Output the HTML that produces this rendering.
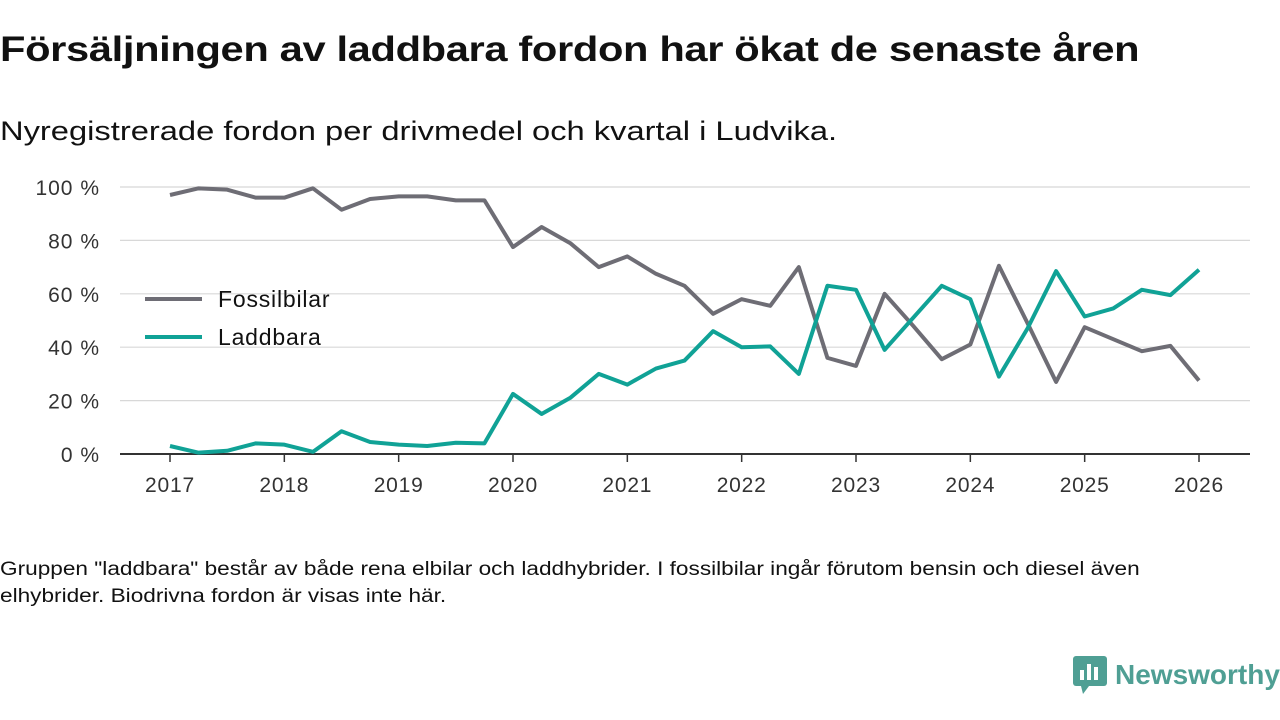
<!DOCTYPE html>
<html><head><meta charset="utf-8"><style>
body{margin:0;width:1280px;height:720px;background:#fff;font-family:"Liberation Sans","DejaVu Sans",sans-serif;color:#111;overflow:hidden;position:relative}
.t{position:absolute;left:0;top:30px;font-size:35px;font-weight:bold;letter-spacing:-0.3px;transform:scaleX(1.19);transform-origin:left;white-space:nowrap}
.s{position:absolute;left:0;top:116px;font-size:27px;transform:scaleX(1.21);transform-origin:left;white-space:nowrap}
.f{position:absolute;left:0;top:556px;font-size:19px;line-height:27px;width:1010px;transform:scaleX(1.19);transform-origin:left}
</style></head><body>
<div class="t">Försäljningen av laddbara fordon har ökat de senaste åren</div>
<div class="s">Nyregistrerade fordon per drivmedel och kvartal i Ludvika.</div>
<svg id="c" width="1280" height="720" style="position:absolute;left:0;top:0"></svg>
<div class="f">Gruppen "laddbara" består av både rena elbilar och laddhybrider. I fossilbilar ingår förutom bensin och diesel även elhybrider. Biodrivna fordon är visas inte här.</div>
<div style="position:absolute;left:1073px;top:656px;display:flex;align-items:center;gap:8px">
<svg width="34" height="38"><rect x="0" y="0" width="34" height="30" rx="3" fill="#4f9f94"/><polygon points="8,30 16,30 10,38" fill="#4f9f94"/><rect x="7" y="14" width="4" height="10" fill="#fff"/><rect x="14" y="8" width="4" height="16" fill="#fff"/><rect x="21" y="11" width="4" height="13" fill="#fff"/></svg>
<span style="font-size:28px;font-weight:bold;color:#4f9f94">Newsworthy</span></div>
<script>
const years=["2017","2018","2019","2020","2021","2022","2023","2024","2025","2026"];
const yTicks=[0,20,40,60,80,100];
const fossil=[97,99.5,99,96,96,99.5,91.5,95.5,96.5,96.5,95,95,77.5,85,79,70,74,67.5,63,52.5,58,55.5,70,36,33,60,48,35.5,41,70.5,49,27,47.5,43,38.5,40.5,27.5];
const laddbara=[3,0.5,1.2,4,3.5,0.8,8.5,4.5,3.5,3,4.2,4,22.5,15,21,30,26,32,35,46,40,40.3,30,63,61.5,39,51,63,58,29,47,68.5,51.5,54.5,61.5,59.5,69];
const svg=document.getElementById('c'),NS="http://www.w3.org/2000/svg";
const x=i=>170+i*(1029/36), y=v=>454-v*2.67;
function mk(t,a,p){const e=document.createElementNS(NS,t);for(const k in a)e.setAttribute(k,a[k]);(p||svg).appendChild(e);return e;}
yTicks.forEach(v=>{
 const g=mk('line',{x1:120,x2:1250,y1:y(v),y2:y(v),stroke:v?'#d8d8d8':'#333','stroke-width':v?1.2:2});
 
 
 const t=mk('text',{x:100,y:y(v)+8,'text-anchor':'end','font-size':21,fill:'#333','letter-spacing':1});t.textContent=v+' %';
 
 
});
years.forEach((yr,i)=>{
 const xx=x(i*4);
 const l=mk('line',{x1:xx,x2:xx,y1:454,y2:462,stroke:'#333','stroke-width':1.5});
 
 
 const t=mk('text',{x:xx,y:492,'text-anchor':'middle','font-size':21,fill:'#333','letter-spacing':0.8});t.textContent=yr;
 
 
});
function line(d,c,n){
 const p=mk('polyline',{points:d.map((v,i)=>x(i)+','+y(v)).join(' '),fill:'none',stroke:c,'stroke-width':4,'stroke-linejoin':'round'});
 
 
}
line(fossil,'#6e6d75','line-fossilbilar');
line(laddbara,'#10a296','line-laddbara');
[['Fossilbilar','#6e6d75',299],['Laddbara','#10a296',337]].forEach(([n,c,yy])=>{
 const l=mk('line',{x1:145,x2:202,y1:yy,y2:yy,stroke:c,'stroke-width':4});
 
 
 const t=mk('text',{x:218,y:yy+8,'font-size':23,fill:'#111','letter-spacing':0.8});t.textContent=n;
 
 
});
</script>
</body></html>
